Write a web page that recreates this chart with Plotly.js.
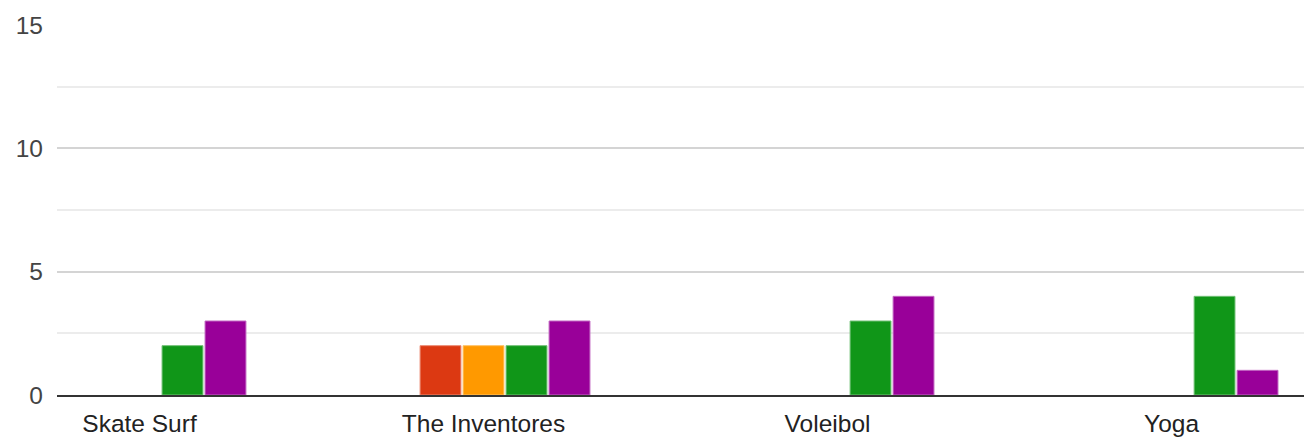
<!DOCTYPE html>
<html>
<head>
<meta charset="utf-8">
<script src="https://cdn.plot.ly/plotly-3.0.1.min.js"></script>
<style>html,body{margin:0;padding:0;background:#fff;}#chart{width:1304px;height:437px;}</style>
</head>
<body>
<div id="chart"></div>
<script>
const categories = ['Skate Surf', 'The Inventores', 'Voleibol', 'Yoga'];
const seriesNames = ['1', '2', '3', '4', '5'];
const series1 = [0, 0, 0, 0];
const series2 = [0, 2, 0, 0];
const series3 = [0, 2, 0, 0];
const series4 = [2, 2, 3, 4];
const series5 = [3, 3, 4, 1];
const colors = ['#3366CC', '#DC3912', '#FF9900', '#109618', '#990099'];
const outlines = ['#7799dd', '#eb8a72', '#ffc266', '#70c075', '#c266c2'];
const yTickVals = [0, 5, 10, 15];
const yMinorVals = [2.5, 7.5, 12.5];
const yGridVals = [5, 10];

const allSeries = [series1, series2, series3, series4, series5];
const traces = allSeries.map((vals, i) => ({
  type: 'bar',
  name: seriesNames[i],
  x: categories,
  y: vals,
  marker: {color: colors[i], line: {color: outlines[i], width: vals.map(v => v > 0 ? 1 : 0)}},
  hoverinfo: 'x+y+name'
}));
// grid helper axis (no data drawn)
traces.push({type: 'scatter', x: [categories[0]], y: [0], yaxis: 'y2', mode: 'none', showlegend: false, hoverinfo: 'skip'});

const layout = {
  width: 1304,
  height: 437,
  margin: {l: 57, r: 0, t: 25, b: 42},
  paper_bgcolor: '#ffffff',
  plot_bgcolor: 'rgba(0,0,0,0)',
  showlegend: false,
  barmode: 'group',
  bargap: 0.375,
  bargroupgap: 0.05,
  font: {family: '"Liberation Sans", Arial, sans-serif', size: 25, color: '#222'},
  xaxis: {
    type: 'category',
    range: [-0.2398, 3.385],
    showgrid: false,
    showline: true,
    linecolor: '#333',
    linewidth: 2,
    ticks: '',
    tickfont: {size: 24.5, color: '#222'},
    ticklabelstandoff: 6
  },
  yaxis: {
    range: [0, 15],
    tickvals: yTickVals,
    ticktext: yTickVals.map(String),
    showgrid: false,
    zeroline: false,
    showline: false,
    ticks: '',
    tickfont: {size: 24.5, color: '#444'},
    ticklabelstandoff: 13,
    minor: {tickvals: yMinorVals, showgrid: true, gridcolor: '#ececec', gridwidth: 2, ticks: ''}
  },
  yaxis2: {
    overlaying: 'y',
    range: [0, 15],
    tickvals: yGridVals,
    showticklabels: false,
    showgrid: true,
    gridcolor: '#d4d4d4',
    gridwidth: 2,
    zeroline: false,
    ticks: '',
    layer: 'below traces'
  }
};

Plotly.newPlot('chart', traces, layout, {staticPlot: true, displayModeBar: false});
</script>
</body>
</html>
